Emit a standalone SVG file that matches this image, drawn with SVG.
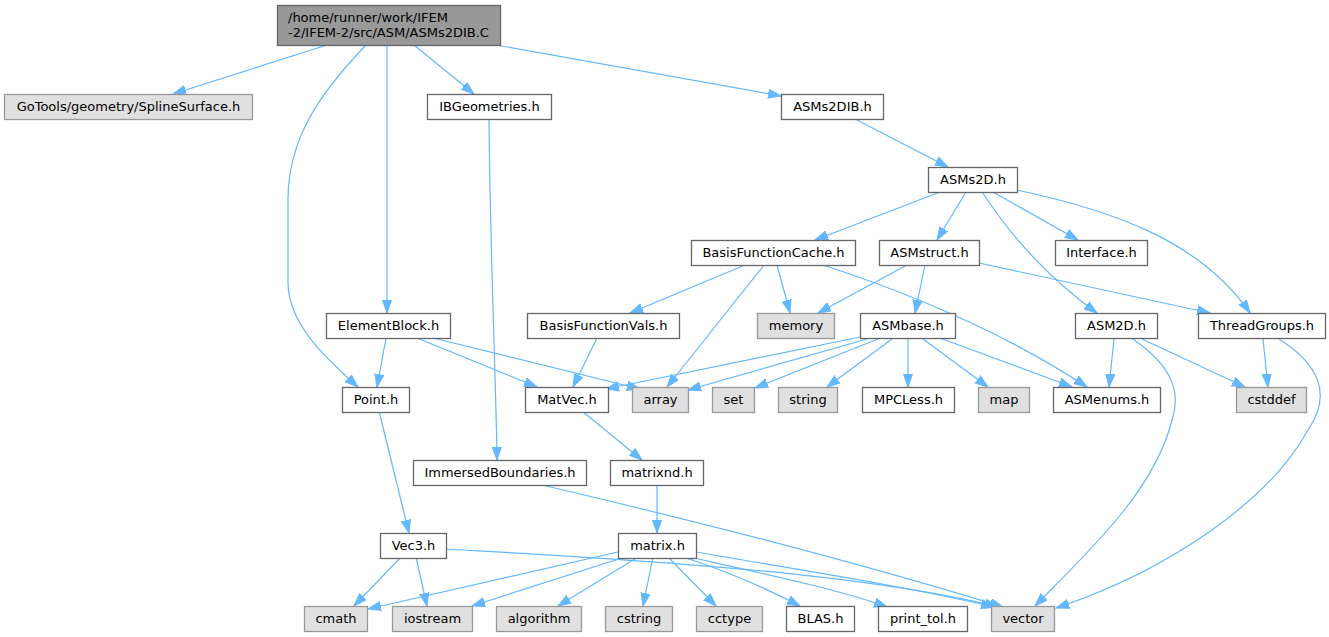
<svg xmlns="http://www.w3.org/2000/svg" width="1329" height="637" viewBox="0 0 1329 637">
<style>
.nd rect{fill:#ffffff;stroke:#666666;stroke-width:1.3}
.gy rect{fill:#e0e0e0;stroke:#999999;stroke-width:1.3}
.rt rect{fill:#999999;stroke:#666666;stroke-width:1.3}
text{font-family:"DejaVu Sans","Liberation Sans",sans-serif;font-size:13px;fill:#000000;text-anchor:middle}
.rt text{text-anchor:start}
#edges path{fill:none;stroke:#63b8ff;stroke-width:1.2;marker-end:url(#ah)}
</style>
<defs>
<marker id="ah" markerUnits="userSpaceOnUse" markerWidth="14" markerHeight="11" refX="13" refY="5" orient="auto">
<path d="M0,0.4 L13,5 L0,9.6 Z" fill="#63b8ff" stroke="#63b8ff" stroke-width="1"/>
</marker>
</defs>
<rect width="1329" height="637" fill="#ffffff"/>
<g id="edges">
<path d="M327,45 L173,94"/>
<path d="M414,45 L474,94"/>
<path d="M496,45 L781,96"/>
<path d="M387,45 L387,313"/>
<path d="M366,45 C318,95 288,140 288,200 L288,282 C288,325 328,360 358,387"/>
<path d="M489,119 C490,250 496,380 497,460"/>
<path d="M855,119 L948,167"/>
<path d="M940,192 L815,240"/>
<path d="M966,192 L937,240"/>
<path d="M993,192 L1078,240"/>
<path d="M982,192 Q1030,265 1097,313"/>
<path d="M1017,190 C1110,210 1200,240 1250,313"/>
<path d="M745,265 L630,313"/>
<path d="M764,265 L667,387"/>
<path d="M777,265 L790,313"/>
<path d="M823,265 C900,290 1000,330 1087,387"/>
<path d="M907,265 L818,313"/>
<path d="M925,265 L915,313"/>
<path d="M979,263 L1210,313"/>
<path d="M386,338 L377,387"/>
<path d="M417,338 L537,387"/>
<path d="M433,338 L640,389"/>
<path d="M597,338 L573,387"/>
<path d="M860,337 L606,389"/>
<path d="M867,339 L688,390"/>
<path d="M878,339 L755,388"/>
<path d="M892,339 L827,387"/>
<path d="M908,338 L908,387"/>
<path d="M923,339 L988,387"/>
<path d="M940,338 L1072,387"/>
<path d="M1114,339 L1109,387"/>
<path d="M1142,339 L1245,387"/>
<path d="M1133,339 C1170,365 1182,390 1172,420 C1155,490 1090,550 1035,606"/>
<path d="M1263,339 L1268,387"/>
<path d="M1279,339 C1320,365 1332,395 1308,430 C1270,500 1170,570 1056,608"/>
<path d="M582,411 L642,460"/>
<path d="M542,485 C700,522 850,560 1003,607"/>
<path d="M657,485 L657,533"/>
<path d="M379,411 L409,533"/>
<path d="M401,557 L354,606"/>
<path d="M416,557 L427,606"/>
<path d="M446,549 C600,558 850,570 998,607"/>
<path d="M618,552 L368,609"/>
<path d="M625,557 L472,606"/>
<path d="M638,557 L558,606"/>
<path d="M653,557 L643,606"/>
<path d="M668,557 L716,606"/>
<path d="M683,557 Q740,575 800,606"/>
<path d="M694,558 C770,575 840,590 887,607"/>
<path d="M696,552 C800,570 900,585 994,607"/>
</g>
<g id="n_root" class="rt"><rect x="277.5" y="5.5" width="223" height="40"/><text x="288" y="21.5">/home/runner/work/IFEM</text><text x="288" y="36.5">-2/IFEM-2/src/ASM/ASMs2DIB.C</text></g>
<g id="n_gotools" class="gy"><rect x="4.5" y="94.5" width="248" height="25"/><text x="128.5" y="110.5">GoTools/geometry/SplineSurface.h</text></g>
<g id="n_ibgeometries" class="nd"><rect x="427.5" y="94.5" width="124" height="25"/><text x="489.5" y="110.5">IBGeometries.h</text></g>
<g id="n_asms2dib" class="nd"><rect x="781.5" y="94.5" width="102" height="25"/><text x="832.5" y="110.5">ASMs2DIB.h</text></g>
<g id="n_asms2d" class="nd"><rect x="928.5" y="167.5" width="89" height="25"/><text x="973" y="183.5">ASMs2D.h</text></g>
<g id="n_bfc" class="nd"><rect x="691.5" y="240.5" width="164" height="25"/><text x="773.5" y="256.5">BasisFunctionCache.h</text></g>
<g id="n_asmstruct" class="nd"><rect x="879.5" y="240.5" width="100" height="25"/><text x="929.5" y="256.5">ASMstruct.h</text></g>
<g id="n_interface" class="nd"><rect x="1055.5" y="240.5" width="92" height="25"/><text x="1101.5" y="256.5">Interface.h</text></g>
<g id="n_elementblock" class="nd"><rect x="326.5" y="313.5" width="124" height="25"/><text x="388.5" y="329.5">ElementBlock.h</text></g>
<g id="n_bfv" class="nd"><rect x="527.5" y="313.5" width="152" height="25"/><text x="603.5" y="329.5">BasisFunctionVals.h</text></g>
<g id="n_memory" class="gy"><rect x="757.5" y="313.5" width="77" height="25"/><text x="796" y="329.5">memory</text></g>
<g id="n_asmbase" class="nd"><rect x="860.5" y="313.5" width="95" height="25"/><text x="908" y="329.5">ASMbase.h</text></g>
<g id="n_asm2d" class="nd"><rect x="1075.5" y="313.5" width="82" height="25"/><text x="1116.5" y="329.5">ASM2D.h</text></g>
<g id="n_threadgroups" class="nd"><rect x="1198.5" y="313.5" width="127" height="25"/><text x="1262" y="329.5">ThreadGroups.h</text></g>
<g id="n_point" class="nd"><rect x="342.5" y="387.5" width="67" height="25"/><text x="376" y="403.5">Point.h</text></g>
<g id="n_matvec" class="nd"><rect x="525.5" y="387.5" width="83" height="25"/><text x="567" y="403.5">MatVec.h</text></g>
<g id="n_array" class="gy"><rect x="632.5" y="387.5" width="56" height="25"/><text x="660.5" y="403.5">array</text></g>
<g id="n_set" class="gy"><rect x="712.5" y="387.5" width="42" height="25"/><text x="733.5" y="403.5">set</text></g>
<g id="n_string" class="gy"><rect x="778.5" y="387.5" width="59" height="25"/><text x="808" y="403.5">string</text></g>
<g id="n_mpcless" class="nd"><rect x="862.5" y="387.5" width="92" height="25"/><text x="908.5" y="403.5">MPCLess.h</text></g>
<g id="n_map" class="gy"><rect x="978.5" y="387.5" width="51" height="25"/><text x="1004" y="403.5">map</text></g>
<g id="n_asmenums" class="nd"><rect x="1053.5" y="387.5" width="107" height="25"/><text x="1107" y="403.5">ASMenums.h</text></g>
<g id="n_cstddef" class="gy"><rect x="1236.5" y="387.5" width="70" height="25"/><text x="1271.5" y="403.5">cstddef</text></g>
<g id="n_immersed" class="nd"><rect x="413.5" y="460.5" width="173" height="25"/><text x="500" y="476.5">ImmersedBoundaries.h</text></g>
<g id="n_matrixnd" class="nd"><rect x="610.5" y="460.5" width="93" height="25"/><text x="657" y="476.5">matrixnd.h</text></g>
<g id="n_vec3" class="nd"><rect x="380.5" y="533.5" width="66" height="25"/><text x="413.5" y="549.5">Vec3.h</text></g>
<g id="n_matrix" class="nd"><rect x="618.5" y="533.5" width="78" height="25"/><text x="657.5" y="549.5">matrix.h</text></g>
<g id="n_cmath" class="gy"><rect x="304.5" y="606.5" width="63" height="25"/><text x="336" y="622.5">cmath</text></g>
<g id="n_iostream" class="gy"><rect x="392.5" y="606.5" width="80" height="25"/><text x="432.5" y="622.5">iostream</text></g>
<g id="n_algorithm" class="gy"><rect x="496.5" y="606.5" width="85" height="25"/><text x="539" y="622.5">algorithm</text></g>
<g id="n_cstring" class="gy"><rect x="605.5" y="606.5" width="67" height="25"/><text x="639" y="622.5">cstring</text></g>
<g id="n_cctype" class="gy"><rect x="696.5" y="606.5" width="66" height="25"/><text x="729.5" y="622.5">cctype</text></g>
<g id="n_blas" class="nd"><rect x="786.5" y="606.5" width="68" height="25"/><text x="820.5" y="622.5">BLAS.h</text></g>
<g id="n_printtol" class="nd"><rect x="878.5" y="606.5" width="89" height="25"/><text x="923" y="622.5">print_tol.h</text></g>
<g id="n_vector" class="gy"><rect x="991.5" y="606.5" width="63" height="25"/><text x="1023" y="622.5">vector</text></g>
</svg>
